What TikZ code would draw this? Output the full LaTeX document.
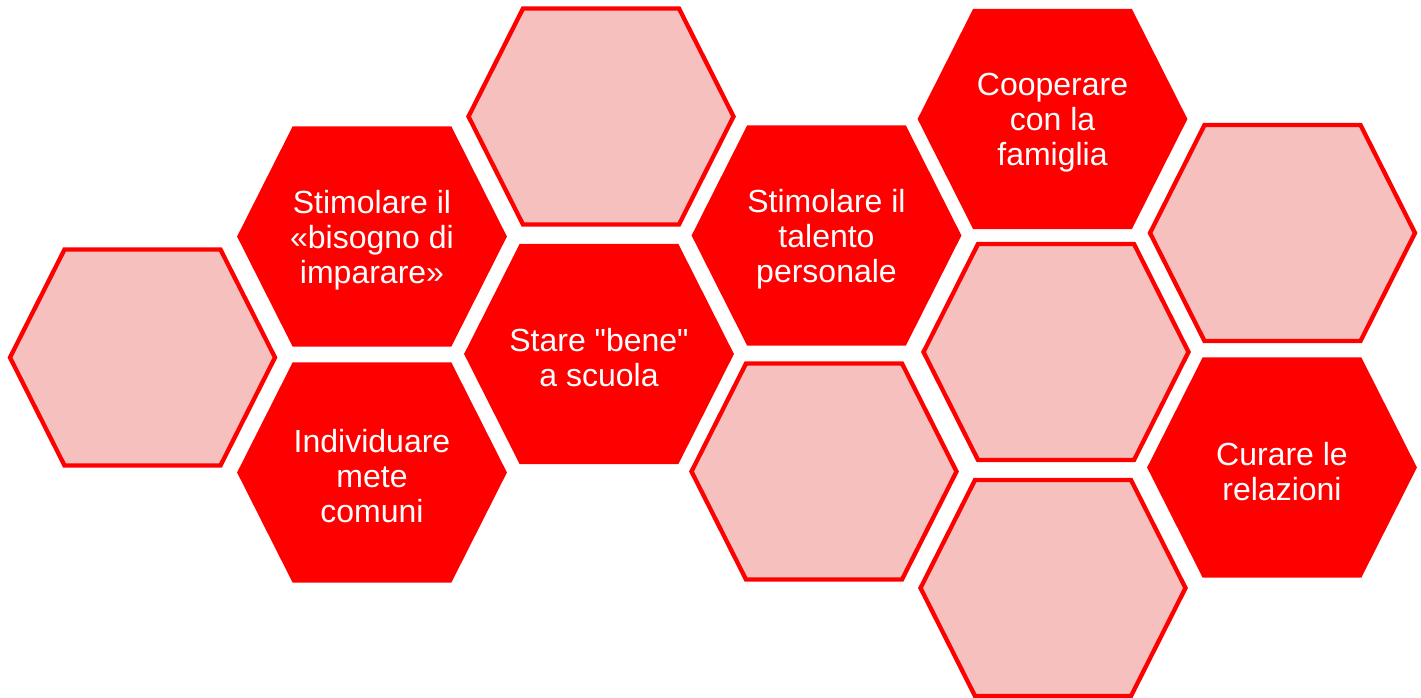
\documentclass[tikz,border=0pt]{standalone}
\usepackage{fontspec}
\setmainfont{Liberation Sans}[Ligatures=TeXOff]
\definecolor{hexred}{RGB}{255,0,0}
\definecolor{hexpink}{RGB}{245,192,190}
\tikzset{
  hexfull/.style={fill=hexred, draw=hexred, line width=4.3pt, line join=miter},
  hexlight/.style={fill=hexpink, draw=hexred, line width=4.3pt, line join=miter},
  hextext/.style={text=white, align=center, font=\fontsize{32}{35}\selectfont, inner sep=0pt, yshift=-4pt}
}
\newcommand\hexcell[5]{%
  \path[#4] (#2,#3) +(-132.5,0) -- +(-78,-108) -- +(78,-108) -- +(132.5,0) -- +(78,108) -- +(-78,108) -- cycle;
  \node[hextext] (#1) at (#2,#3) {#5};
}
\begin{document}
\begin{tikzpicture}[x=1pt,y=-1pt]
\useasboundingbox (0,0) rectangle (1421,698);
\hexcell{h1}{142.5}{357.5}{hexlight}{}
\hexcell{h2}{372}{236.5}{hexfull}{Stimolare il\\«bisogno di\\imparare»}
\hexcell{h3}{372}{472.5}{hexfull}{Individuare\\mete\\comuni}
\hexcell{h4}{601}{116.5}{hexlight}{}
\hexcell{h5}{599}{354}{hexfull}{Stare "bene"\\a scuola}
\hexcell{h6}{826.5}{235.5}{hexfull}{Stimolare il\\talento\\personale}
\hexcell{h7}{824}{471.5}{hexlight}{}
\hexcell{h8}{1052.5}{119}{hexfull}{Cooperare\\con la\\famiglia}
\hexcell{h9}{1056}{352}{hexlight}{}
\hexcell{h10}{1053}{588}{hexlight}{}
\hexcell{h11}{1282.5}{233}{hexlight}{}
\hexcell{h12}{1282}{467.5}{hexfull}{Curare le\\relazioni}
\end{tikzpicture}
\end{document}
